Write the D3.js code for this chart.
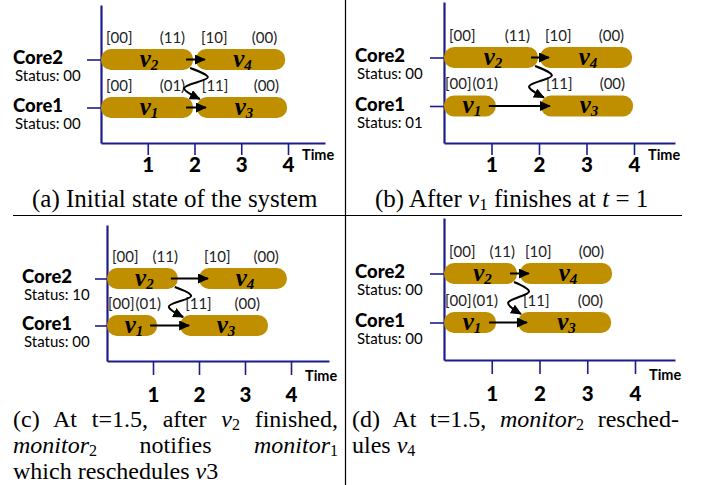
<!DOCTYPE html>
<html><head><meta charset="utf-8">
<script src="https://cdn.jsdelivr.net/npm/d3@7"></script>
<style>
body{margin:0;background:#fff;}
svg{display:block;}
</style></head>
<body>
<script>
// ---------- data ----------
const panelIds   = ["a","b","c","d"];
const timeTicks  = [1,2,3,4];
const coreNames  = ["Core2","Core1"];
const statusCore2 = ["00","00","10","00"];
const statusCore1 = ["00","01","00","00"];
const taskSubs   = ["2","4","1","3"];
const taskCores  = ["Core2","Core2","Core1","Core1"];
const startTags  = ["[00]","[10]","[00]","[11]"];
const endTags    = ["(11)","(00)","(01)","(00)"];
const startsA = [0, 2.03, 0, 2.05], endsA = [1.97, 3.94, 1.97, 3.98];
const startsB = [0, 2.02, 0, 2.04], endsB = [1.98, 3.96, 1.09, 3.98];
const startsC = [0, 2.00, 0, 1.59], endsC = [1.54, 3.91, 1.09, 3.50];
const startsD = [0, 1.59, 0, 1.55], endsD = [1.53, 3.52, 1.09, 3.50];
const straightLinks = [[0,1],[2,3]];   // v2->v4, v1->v3
const squiggleLinks = [[0,3]];         // v2->v3
const captionA = [[["(a) Initial state of the system","r"]]];
const captionB = [[["(b) After ","r"],["v","i"],["1","sub"],[" finishes at ","r"],["t","i"],[" = 1","r"]]];
const captionC = [
  [["(c) At t=1.5, after ","r"],["v","i"],["2","sub"],[" finished,","r"]],
  [["monitor","i"],["2","sub"],[" notifies ","r"],["monitor","i"],["1","sub"]],
  [["which reschedules ","r"],["v","i"],["3","r"]]
];
const captionD = [
  [["(d) At t=1.5, ","r"],["monitor","i"],["2","sub"],[" resched-","r"]],
  [["ules ","r"],["v","i"],["4","sub"]]
];

// ---------- layout ----------
const W = 709, H = 485;
const BAR = "#BF8F00", AXIS = "#1c1c8c";
const layout = {
  a:{axisX:101, t4X:288, axisY:143, topY:5,   rightX:325, row2:59.5,  row1:107.5, labelX:13,  tickLeft:87,  tickLen:12, numOff:29, timeOff:17,
     starts:startsA, ends:endsA, caption:captionA, capX:32,  capY:[207], capW:null, capFs:25},
  b:{axisX:444, t4X:634, axisY:143, topY:2,   rightX:675, row2:57.5,  row1:106,   labelX:355, tickLeft:430, tickLen:12, numOff:29, timeOff:17,
     starts:startsB, ends:endsB, caption:captionB, capX:375, capY:[207], capW:null, capFs:25},
  c:{axisX:107, t4X:291, axisY:361, topY:225, rightX:329, row2:278.5, row1:325.5, labelX:22,  tickLeft:95,  tickLen:14, numOff:41, timeOff:20,
     starts:startsC, ends:endsC, caption:captionC, capX:13,  capY:[427,453,479], capW:[325,325,null], capFs:24},
  d:{axisX:444, t4X:635, axisY:360, topY:218, rightX:675, row2:273.5, row1:322.5, labelX:355, tickLeft:430, tickLen:14, numOff:41, timeOff:20,
     starts:startsD, ends:endsD, caption:captionD, capX:352, capY:[427,453],     capW:[327,null], capFs:24}
};

const svg = d3.select("body").append("svg").attr("width",W).attr("height",H);
svg.append("rect").attr("width",W).attr("height",H).attr("fill","#fff");

const defs = svg.append("defs");
defs.append("marker").attr("id","ah").attr("markerUnits","userSpaceOnUse")
  .attr("markerWidth",11).attr("markerHeight",10).attr("refX",10).attr("refY",5)
  .attr("orient","auto")
  .append("path").attr("d","M0,0 L11,5 L0,10 Z").attr("fill","#000");

// separators
svg.append("line").attr("x1",345.5).attr("x2",345.5).attr("y1",0).attr("y2",H).attr("stroke","#000").attr("stroke-width",1.2);
svg.append("line").attr("x1",13).attr("x2",682).attr("y1",215.5).attr("y2",215.5).attr("stroke","#000").attr("stroke-width",1.2);

panelIds.forEach((pid, pi) => {
  const L = layout[pid];
  const g = svg.append("g");
  const x = d3.scaleLinear().domain([0,4]).range([L.axisX, L.t4X]);
  const xAx = x.copy().domain([0, x.invert(L.rightX)]).range([L.axisX, L.rightX]);
  const coreY = d3.scaleOrdinal().domain(coreNames).range([L.row2, L.row1]);
  const y = d3.scaleLinear().domain([0,1]).range([L.row1, L.row2]);
  const yAx = y.copy().domain([y.invert(L.axisY), y.invert(L.topY)]).range([L.axisY, L.topY]);

  // y axis with core ticks
  const ya = g.append("g").attr("transform",`translate(${L.axisX},0)`)
    .call(d3.axisLeft(yAx).tickValues([0,1]).tickFormat("").tickSize(L.axisX - L.tickLeft).tickSizeOuter(0));
  ya.select(".domain").attr("stroke",AXIS).attr("stroke-width",2.2);
  ya.selectAll(".tick line").attr("stroke",AXIS).attr("stroke-width",1.6);

  // x axis
  const xa = g.append("g").attr("transform",`translate(0,${L.axisY})`)
    .call(d3.axisBottom(xAx).tickValues(timeTicks).tickSize(L.tickLen).tickSizeOuter(0).tickFormat(d3.format("d")));
  xa.select(".domain").attr("stroke",AXIS).attr("stroke-width",2.2);
  xa.selectAll(".tick line").attr("stroke",AXIS).attr("stroke-width",1.6);
  xa.selectAll(".tick text").attr("y",L.numOff).attr("dy",0)
    .attr("font-family","Lato, 'Open Sans', sans-serif").attr("font-weight","900").attr("font-size",20.5).attr("fill","#000");
  g.append("text").attr("x", x(4)+14).attr("y", L.axisY + L.timeOff).text("Time")
    .attr("font-family","Lato, sans-serif").attr("font-weight","bold").attr("font-size",14.5);

  // core labels
  const statuses = [statusCore2[pi], statusCore1[pi]];
  coreNames.forEach((c, ci) => {
    const cy = coreY(c);
    g.append("text").attr("x",L.labelX).attr("y",cy+4.5).text(c)
      .attr("font-family","Lato, sans-serif").attr("font-weight","900").attr("font-size",18.5);
    g.append("text").attr("x",L.labelX+2).attr("y",cy+21.5).text("Status: " + statuses[ci])
      .attr("font-family","Lato, sans-serif").attr("font-size",15);
  });

  // bars
  const tasks = taskSubs.map((s,i)=>({sub:s, core:taskCores[i], s:L.starts[i], e:L.ends[i], st:startTags[i], et:endTags[i]}));
  const bh = 21;
  g.selectAll("rect.bar").data(tasks).join("rect").attr("class","bar")
    .attr("x", d=>x(d.s)).attr("width", d=>x(d.e)-x(d.s))
    .attr("y", d=>coreY(d.core)-bh/2).attr("height", bh)
    .attr("rx",10).attr("ry",10).attr("fill",BAR);

  // task names
  tasks.forEach(d => {
    const t = g.append("text").attr("x", (x(d.s)+x(d.e))/2 + 2).attr("y", coreY(d.core)+7)
      .attr("text-anchor","middle").attr("font-family","'Liberation Serif', 'DejaVu Serif', serif")
      .attr("font-weight","bold").attr("font-style","italic").attr("fill","#000");
    t.append("tspan").attr("font-size",25).text("v");
    t.append("tspan").attr("font-size",15).attr("dy",3).text(d.sub);
  });

  // tags above bars
  tasks.forEach(d => {
    const ty = coreY(d.core) - 17;
    const x0 = x(d.s), x1 = x(d.e), w = x1 - x0;
    const mk = (txt) => g.append("text").attr("y",ty).text(txt)
      .attr("font-family","Lato, sans-serif").attr("font-size",15).attr("fill","#222");
    const a = mk(d.st), b = mk(d.et);
    const wa = a.node().getComputedTextLength(), wb = b.node().getComputedTextLength();
    if (w < 60) {
      a.attr("x", x0+1);
      b.attr("x", x0+1+wa+1);
    } else {
      a.attr("x", x0+5);
      b.attr("text-anchor","end").attr("x", Math.max(x1-8, x0+5+wa+14+wb));
    }
  });

  // straight arrows
  straightLinks.forEach(([i,j]) => {
    const cy = coreY(tasks[i].core);
    g.append("line").attr("x1", x(tasks[i].e)-7).attr("x2", x(tasks[j].s)+9)
      .attr("y1", cy).attr("y2", cy).attr("stroke","#000").attr("stroke-width",2)
      .attr("marker-end","url(#ah)");
  });

  // squiggle arrows
  squiggleLinks.forEach(([i,j]) => {
    const S = [x(tasks[i].e)-3, coreY(tasks[i].core)+bh/2-2];
    const E = [x(tasks[j].s)+3, coreY(tasks[j].core)-bh/2+2];
    const h = E[1]-S[1];
    const R = [Math.max(S[0],E[0])+8, S[1]+0.3*h];
    const Lp = [Math.min(S[0],E[0])-6, S[1]+0.65*h];
    g.append("path").attr("d", d3.line().curve(d3.curveCatmullRom)([S,R,Lp,E]))
      .attr("fill","none").attr("stroke","#000").attr("stroke-width",2).attr("marker-end","url(#ah)");
  });

  // caption
  L.caption.forEach((line, li) => {
    const t = g.append("text").attr("x", L.capX).attr("y", L.capY[li])
      .attr("font-family","'Liberation Serif', 'Times New Roman', serif").attr("font-size",L.capFs).attr("fill","#000");
    let shifted = false;
    line.forEach(([txt, sty]) => {
      const ts = t.append("tspan").text(txt);
      if (sty === "i") ts.attr("font-style","italic");
      if (sty === "sub") { ts.attr("font-size",Math.round(L.capFs*0.66)).attr("dy",3); shifted = true; }
      else if (shifted) { ts.attr("dy",-3); shifted = false; }
    });
    const target = L.capW ? L.capW[li] : null;
    if (target) {
      const nat = t.node().getComputedTextLength();
      const nSp = line.map(p=>p[0]).join("").split(" ").length - 1;
      if (nSp > 0) t.style("word-spacing", ((target - nat)/nSp) + "px");
    }
  });
});
</script>
</body></html>
